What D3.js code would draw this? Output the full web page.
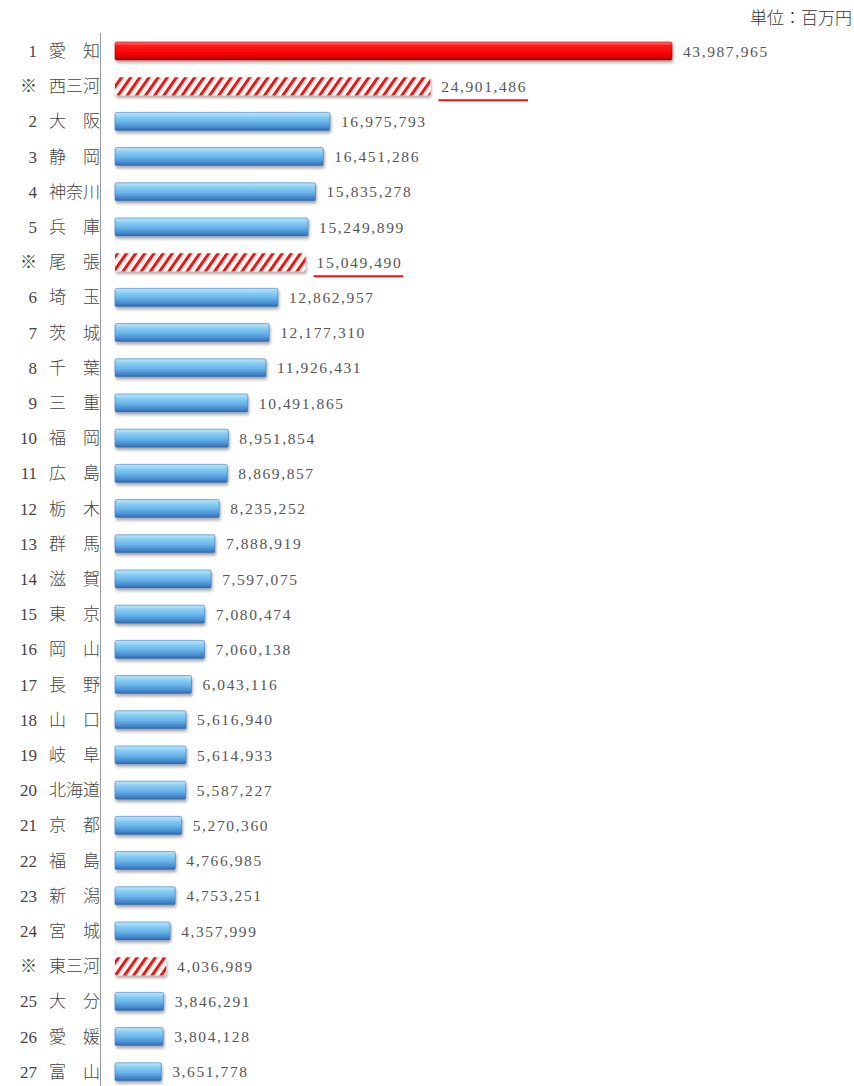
<!DOCTYPE html>
<html><head><meta charset="utf-8">
<script src="https://cdn.jsdelivr.net/npm/d3@7/dist/d3.min.js"></script>
<style>body{margin:0;background:#fff}</style>
</head><body>
<script>
const ranks = ["1","※","2","3","4","5","※","6","7","8","9","10","11","12","13","14","15","16","17","18","19","20","21","22","23","24","※","25","26","27"];
const names = ["愛知","西三河","大阪","静岡","神奈川","兵庫","尾張","埼玉","茨城","千葉","三重","福岡","広島","栃木","群馬","滋賀","東京","岡山","長野","山口","岐阜","北海道","京都","福島","新潟","宮城","東三河","大分","愛媛","富山"];
const values = [43987965,24901486,16975793,16451286,15835278,15249899,15049490,12862957,12177310,11926431,10491865,8951854,8869857,8235252,7888919,7597075,7080474,7060138,6043116,5616940,5614933,5587227,5270360,4766985,4753251,4357999,4036989,3846291,3804128,3651778];
const kinds = ["top","region","pref","pref","pref","pref","region","pref","pref","pref","pref","pref","pref","pref","pref","pref","pref","pref","pref","pref","pref","pref","pref","pref","pref","pref","region","pref","pref","pref"];
const underlined = ["西三河","尾張"];
const unitLabel = "単位：百万円";

const W = 854, H = 1086;
const svg = d3.select("body").append("svg").attr("width", W).attr("height", H);
const defs = svg.append("defs");

const blue = defs.append("linearGradient").attr("id","gBlue").attr("x1",0).attr("y1",0).attr("x2",0).attr("y2",1);
[[0,"#bfe8fb"],[0.2,"#92d2f5"],[0.55,"#66b3ea"],[0.85,"#4386cc"],[1,"#2f65a6"]].forEach(s=>blue.append("stop").attr("offset",s[0]).attr("stop-color",s[1]));
const red = defs.append("linearGradient").attr("id","gRed").attr("x1",0).attr("y1",0).attr("x2",0).attr("y2",1);
[[0,"#ff7a7a"],[0.2,"#ff1a1a"],[0.7,"#f00000"],[1,"#a80000"]].forEach(s=>red.append("stop").attr("offset",s[0]).attr("stop-color",s[1]));
const pat = defs.append("pattern").attr("id","hatch").attr("patternUnits","userSpaceOnUse")
  .attr("width",7.5).attr("height",8).attr("patternTransform","rotate(35)");
pat.append("rect").attr("width",7.5).attr("height",8).attr("fill","#fbf7ef");
pat.append("rect").attr("x",0).attr("width",3).attr("height",8).attr("fill","#e8121a");
const sh = defs.append("filter").attr("id","shadow").attr("x","-5%").attr("y","-30%").attr("width","110%").attr("height","190%");
sh.append("feDropShadow").attr("dx",1).attr("dy",2.5).attr("stdDeviation",1.6).attr("flood-color","#000").attr("flood-opacity",0.35);

const x = d3.scaleLinear().domain([0, 43987965]).range([115, 672]);
const y = d3.scalePoint().domain(d3.range(values.length)).range([33.4, 1089.4]).padding(0.5);
const bh = 18;

// axis line
svg.append("line").attr("x1",100.5).attr("x2",100.5).attr("y1",33).attr("y2",H).attr("stroke","#9a9a9a").attr("stroke-width",1);

svg.append("text").attr("x",852).attr("y",24).attr("text-anchor","end")
  .attr("font-family","'Noto Sans CJK JP'").attr("font-size",17).attr("font-weight",300).attr("fill","#333").text(unitLabel);

const fmt = d3.format(",");
const g = svg.append("g");
values.forEach((v,i)=>{
  const cy = y(i);
  const fill = kinds[i]==="top" ? "url(#gRed)" : kinds[i]==="region" ? "url(#hatch)" : "url(#gBlue)";
  g.append("rect").attr("x",x(0)).attr("y",cy-bh/2).attr("width",x(v)-x(0)).attr("height",bh)
    .attr("rx",1.5).attr("fill",fill).attr("filter","url(#shadow)")
    .attr("stroke", kinds[i]==="pref" ? "#3a73b5" : kinds[i]==="top" ? "#b00000" : "none").attr("stroke-width",0.6);
  // rank
  g.append("text").attr("x",37).attr("y",cy+6).attr("text-anchor","end")
    .attr("font-family", ranks[i]==="※" ? "'Noto Sans CJK JP'" : "'Liberation Serif'")
    .attr("font-size", 17).attr("fill","#444").text(ranks[i]);
  const nm = names[i].length===2 ? names[i][0]+"　"+names[i][1] : names[i];
  g.append("text").attr("x",100).attr("y",cy+6).attr("text-anchor","end")
    .attr("font-family","'Noto Sans CJK JP'").attr("font-size",17).attr("font-weight",300).attr("fill","#444").text(nm);
  const t = g.append("text").attr("x",x(v)+11).attr("y",cy+5.5)
    .attr("font-family","'Liberation Serif'").attr("font-size",15.5).attr("letter-spacing",1.6)
    .attr("fill","#555").text(fmt(v));
  if (underlined.includes(names[i])) {
    const len = t.node().getComputedTextLength();
    g.append("line").attr("x1",x(v)+8).attr("x2",x(v)+12+len).attr("y1",cy+14).attr("y2",cy+14)
      .attr("stroke","#e8121a").attr("stroke-width",2);
  }
});
</script>
</body></html>
